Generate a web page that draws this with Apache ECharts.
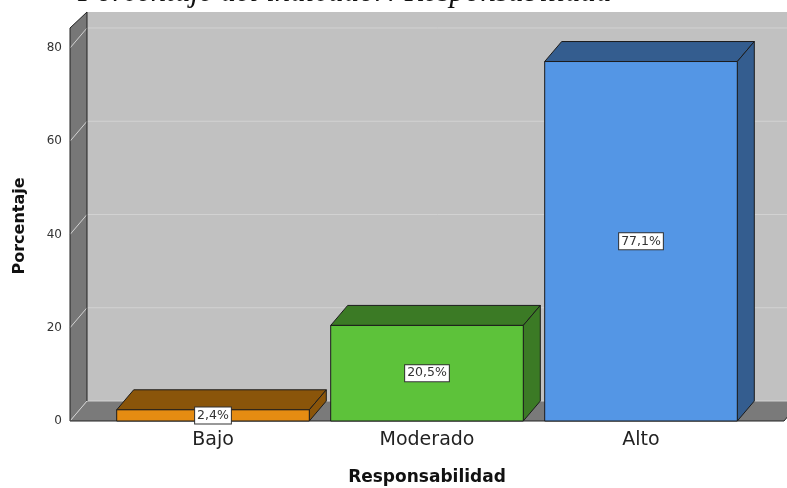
<!DOCTYPE html>
<html>
<head>
<meta charset="utf-8">
<script src="https://cdn.jsdelivr.net/npm/echarts@6/dist/echarts.min.js"></script>
<style>
  html, body { margin: 0; padding: 0; background: #ffffff; }
  #chart { width: 787px; height: 488px; }
</style>
</head>
<body>
<div id="chart"></div>
<script>
// Chart data
const categories = ['Bajo', 'Moderado', 'Alto'];
const percentages = [2.4, 20.5, 77.1];
const yTicks = [0, 20, 40, 60, 80];

// Styling
const frontColors = ['#e58c12', '#5dc23a', '#5496e5'];
const depthColors = ['#8a550a', '#3b7a25', '#345d8f'];
const DX = 17, DY = -20;          // depth offset of the 3D extrusion
const WALL_OUT = 36;              // how far the floor/walls extend past the category band

const chart = echarts.init(document.getElementById('chart'), null, { renderer: 'canvas' });

function fmtPct(v) {
  return v.toFixed(1).replace('.', ',') + '%';
}

// Back wall, left wall, floor and gridlines
function renderFrame(params, api) {
  const cs = params.coordSys;
  const y0 = api.coord([0, 0])[1];
  const xl = cs.x - WALL_OUT;
  const xr = cs.x + cs.width + WALL_OUT;
  const frontTop = cs.y - 20;
  const backTop = frontTop - 16;
  const children = [];
  // back wall
  children.push({
    type: 'rect',
    shape: { x: xl + DX, y: backTop, width: xr - xl + 40, height: y0 + DY - backTop },
    style: { fill: '#c1c1c1' }
  });
  // left wall
  children.push({
    type: 'polygon',
    shape: { points: [[xl, frontTop], [xl + DX, backTop], [xl + DX, y0 + DY], [xl, y0]] },
    style: { fill: '#777777' }
  });
  // floor
  children.push({
    type: 'polygon',
    shape: { points: [[xl, y0], [xl + DX, y0 + DY], [xr + DX, y0 + DY], [xr, y0]] },
    style: { fill: '#7a7a7a' }
  });
  // gridlines on left wall and back wall
  yTicks.forEach(function (t) {
    const y = api.coord([0, t])[1];
    children.push({
      type: 'polyline',
      shape: { points: [[xl, y], [xl + DX, y + DY], [xr + 60, y + DY]] },
      style: { stroke: '#d2d2d2', lineWidth: 1, fill: null }
    });
  });
  // dark edges
  children.push({
    type: 'polyline',
    shape: { points: [[xl + DX, y0 + DY], [xl + DX, backTop], [xl, frontTop], [xl, y0], [xr, y0], [xr + DX, y0 + DY]] },
    style: { stroke: '#222222', lineWidth: 1, fill: null }
  });
  return { type: 'group', children: children };
}

// 3D bars with value labels
function renderBar(params, api) {
  const idx = api.value(0);
  const v = api.value(1);
  const base = api.coord([idx, 0]);
  const top = api.coord([idx, v]);
  const bw = api.size([1, 0])[0] * 0.9;
  const x0 = base[0] - bw / 2;
  const x1 = base[0] + bw / 2;
  const y0 = base[1];
  const yt = top[1];
  const edge = { stroke: '#1c1c1c', lineWidth: 1 };
  return {
    type: 'group',
    children: [
      {
        type: 'polygon',
        shape: { points: [[x0, yt], [x0 + DX, yt + DY], [x1 + DX, yt + DY], [x1, yt]] },
        style: Object.assign({ fill: depthColors[idx] }, edge)
      },
      {
        type: 'polygon',
        shape: { points: [[x1, yt], [x1 + DX, yt + DY], [x1 + DX, y0 + DY], [x1, y0]] },
        style: Object.assign({ fill: depthColors[idx] }, edge)
      },
      {
        type: 'rect',
        shape: { x: x0, y: yt, width: bw, height: y0 - yt },
        style: Object.assign({ fill: frontColors[idx] }, edge)
      },
      {
        type: 'text',
        x: base[0],
        y: (yt + y0) / 2,
        style: {
          text: fmtPct(v),
          align: 'center',
          verticalAlign: 'middle',
          font: '12.5px "DejaVu Sans"',
          fill: '#333333',
          backgroundColor: '#ffffff',
          borderColor: '#333333',
          borderWidth: 1,
          padding: [2, 2, 1, 2]
        }
      }
    ]
  };
}

const option = {
  animation: false,
  backgroundColor: '#ffffff',
  grid: { left: 106, right: 39, top: 48, bottom: 67, outerBoundsMode: 'none', containLabel: false },
  graphic: [
    {
      type: 'text',
      x: 78,
      y: 8,
      z: 10,
      style: {
        text: 'Porcentaje del indicador: Responsabilidad',
        font: 'italic 31px "Liberation Serif"',
        fill: '#111111',
        verticalAlign: 'bottom'
      }
    },
    {
      type: 'text',
      x: 20,
      y: 226,
      rotation: Math.PI / 2,
      style: {
        text: 'Porcentaje',
        font: 'bold 16px "DejaVu Sans"',
        fill: '#111111',
        align: 'center',
        verticalAlign: 'middle'
      }
    }
  ],
  xAxis: {
    type: 'category',
    data: categories,
    axisLine: { show: false },
    axisTick: { show: false },
    axisLabel: { fontFamily: 'DejaVu Sans', fontSize: 19, color: '#222222', margin: 10 },
    name: 'Responsabilidad',
    nameLocation: 'middle',
    nameGap: 48,
    nameTextStyle: { fontFamily: 'DejaVu Sans', fontSize: 17, fontWeight: 'bold', color: '#111111' }
  },
  yAxis: {
    type: 'value',
    min: 0,
    max: 80,
    interval: 20,
    offset: WALL_OUT,
    axisLine: { show: false },
    axisTick: { show: false },
    splitLine: { show: false },
    axisLabel: { fontFamily: 'DejaVu Sans', fontSize: 12, color: '#333333', margin: 8 }
  },
  series: [
    {
      type: 'custom',
      z: 1,
      silent: true,
      renderItem: renderFrame,
      data: [[0, 0]]
    },
    {
      type: 'custom',
      z: 2,
      renderItem: renderBar,
      data: percentages.map(function (v, i) { return [i, v]; })
    }
  ]
};

chart.setOption(option);
</script>
</body>
</html>
